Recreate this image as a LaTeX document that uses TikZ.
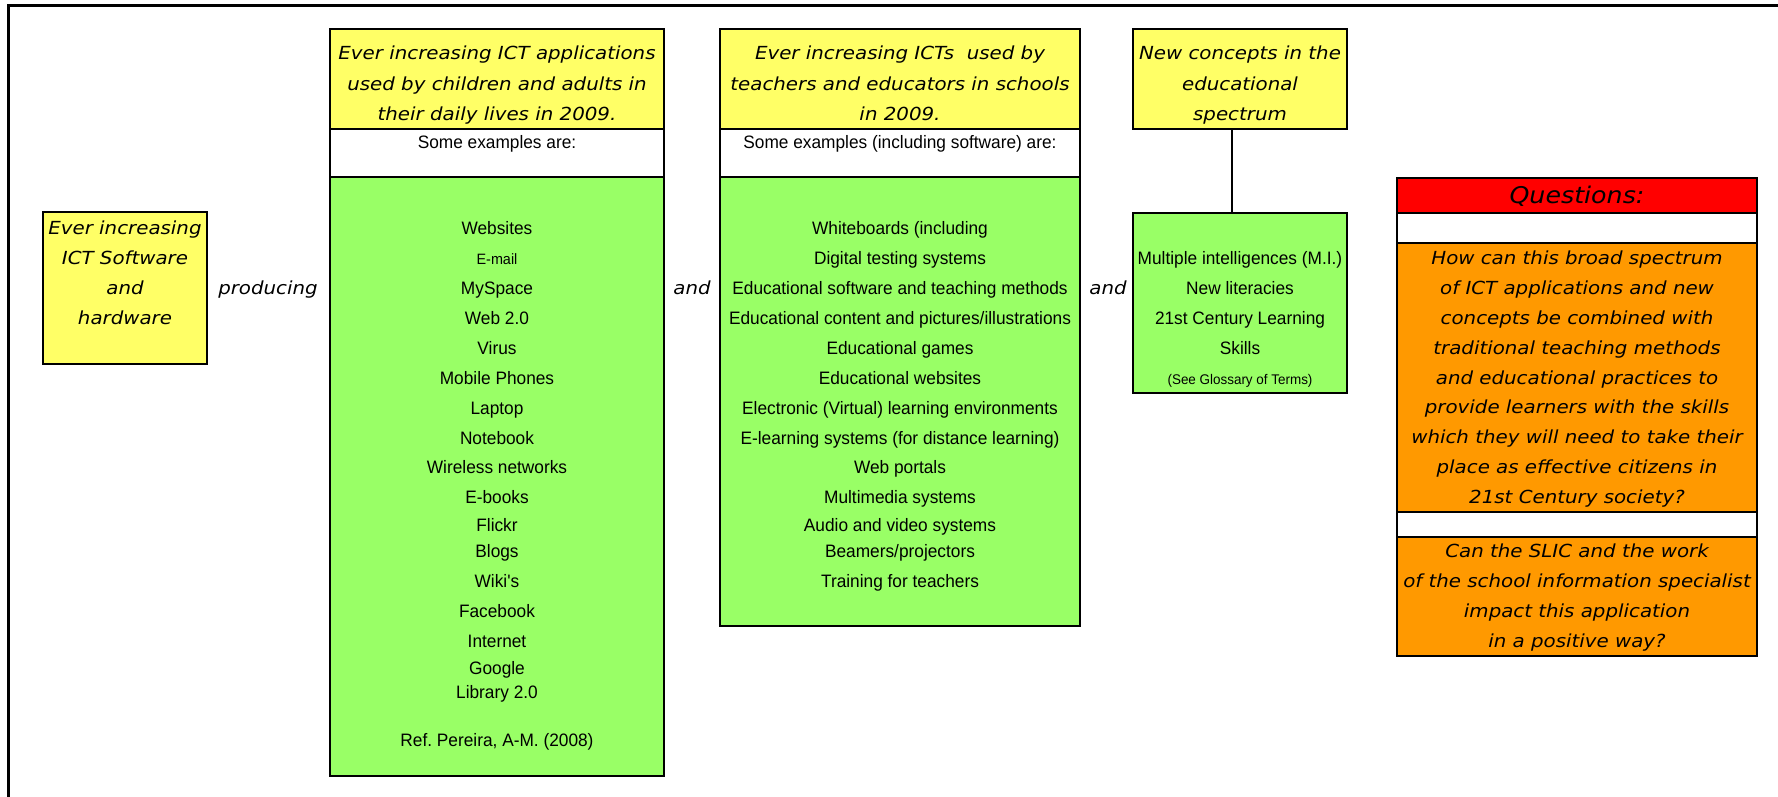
\documentclass[tikz,border=0pt]{standalone}
\usepackage{fontspec}
\newfontfamily\qfont{DejaVu Sans}[FakeStretch=1.1]
\newfontfamily\lfont{Liberation Sans}[FakeStretch=0.96]
\definecolor{ylw}{RGB}{255,255,102}
\definecolor{grn}{RGB}{153,255,102}
\definecolor{org}{RGB}{255,153,0}
\definecolor{qred}{RGB}{255,0,0}
\tikzset{
  box/.style={draw=black, line width=2.2pt, inner sep=0pt, outer sep=0pt, anchor=north west},
  qtext/.style={font=\qfont\itshape\fontsize{18}{20}\selectfont, inner sep=0pt, anchor=base},
  ltext/.style={font=\lfont\fontsize{18}{20}\selectfont, inner sep=0pt, anchor=base},
}
\frenchspacing
\begin{document}
\begin{tikzpicture}[x=1pt,y=-1pt]
\useasboundingbox (0,0) rectangle (1778,797);
\fill[white] (0,0) rectangle (1778,797);
% outer frame (runs past the page edges)
\draw[line width=3pt] (8.5,820) -- (8.5,5.5) -- (1800,5.5);

% ---- ICT software and hardware
\node[box, fill=ylw, minimum width=164pt, minimum height=152pt] (sw) at (43,212) {};
\foreach \yy/\txt [count=\k] in {228/Ever increasing, 258/ICT Software, 288/and, 318/hardware}
  \node[qtext] (swt\k) at (125,\yy+6.5) {\txt};
\node[qtext] (producing) at (268,294.5) {producing};

% ---- applications in daily life
\node[box, fill=ylw, minimum width=334pt, minimum height=100pt] (bY) at (330,29) {};
\node[box, fill=white, minimum width=334pt, minimum height=48pt] (bW) at (330,129) {};
\node[box, fill=grn, minimum width=334pt, minimum height=599pt] (bG) at (330,177) {};
\foreach \yy/\txt [count=\k] in {53/Ever increasing ICT applications, 84/used by children and adults in, 114/their daily lives in 2009.}
  \node[qtext] (bt\k) at (497,\yy+6.5) {\txt};
\node[ltext] (bex) at (497,148.5) {Some examples are:};
\foreach \yy/\txt [count=\k] in {228/Websites, 258/{\fontsize{15}{17}\selectfont E-mail}, 288/MySpace, 318/Web 2.0, 348/Virus,
  378/Mobile Phones, 408/Laptop, 438/Notebook, 467/Wireless networks, 497/E-books, 525/Flickr,
  551/Blogs, 581/Wiki\textquotesingle s, 611/Facebook, 641/Internet, 668/Google, 692/Library 2.0,
  740/{Ref.\ Pereira, A-M.\ (2008)}}
  \node[ltext] (bi\k) at (497,\yy+6.5) {\txt};
\node[qtext] (and1) at (692,294.5) {and};

% ---- ICTs used in schools
\node[box, fill=ylw, minimum width=360pt, minimum height=100pt] (cY) at (720,29) {};
\node[box, fill=white, minimum width=360pt, minimum height=48pt] (cW) at (720,129) {};
\node[box, fill=grn, minimum width=360pt, minimum height=449pt] (cG) at (720,177) {};
\foreach \yy/\txt [count=\k] in {53/Ever increasing ICTs\ \ used by, 84/teachers and educators in schools, 114/in 2009.}
  \node[qtext] (ct\k) at (900,\yy+6.5) {\txt};
\node[ltext] (cex) at (900,148.5) {Some examples (including software) are:};
\foreach \yy/\txt [count=\k] in {228/Whiteboards (including, 258/Digital testing systems,
  288/Educational software and teaching methods, 318/{Educational content and pictures/illustrations},
  348/Educational games, 378/Educational websites, 408/Electronic (Virtual) learning environments,
  438/E-learning systems (for distance learning), 467/Web portals, 497/Multimedia systems,
  525/Audio and video systems, 551/{Beamers/projectors}, 581/Training for teachers}
  \node[ltext] (ci\k) at (900,\yy+6.5) {\txt};
\node[qtext] (and2) at (1108,294.5) {and};

% ---- new concepts
\node[box, fill=ylw, minimum width=214pt, minimum height=100pt] (dY) at (1133,29) {};
\node[box, fill=grn, minimum width=214pt, minimum height=180pt] (dG) at (1133,213) {};
\foreach \yy/\txt [count=\k] in {53/New concepts in the, 84/educational, 114/spectrum}
  \node[qtext] (dt\k) at (1240,\yy+6.5) {\txt};
\foreach \yy/\txt [count=\k] in {258/Multiple intelligences (M.I.), 288/New literacies,
  318/21st Century Learning, 348/Skills, 378/{\fontsize{14}{16}\selectfont (See Glossary of Terms)}}
  \node[ltext] (di\k) at (1240,\yy+6.5) {\txt};
\draw[line width=2.2pt] ([xshift=-8pt]dY.south) -- ([xshift=-8pt]dG.north);

% ---- questions
\node[box, fill=qred, minimum width=360pt, minimum height=35pt] (eR) at (1397,178) {};
\node[box, fill=white, minimum width=360pt, minimum height=30pt] (eW1) at (1397,213) {};
\node[box, fill=org, minimum width=360pt, minimum height=269pt] (eO1) at (1397,243) {};
\node[box, fill=white, minimum width=360pt, minimum height=25pt] (eW2) at (1397,512) {};
\node[box, fill=org, minimum width=360pt, minimum height=119pt] (eO2) at (1397,537) {};
\node[qtext, font=\qfont\itshape\fontsize{23}{25}\selectfont] (eq) at (1577,203.5) {Questions:};
\foreach \yy/\txt [count=\k] in {258/How can this broad spectrum, 288/of ICT applications and new,
  318/concepts be combined with, 348/traditional teaching methods, 378/and educational practices to,
  407/provide learners with the skills, 437/which they will need to take their,
  467/place as effective citizens in, 497/21st Century society?}
  \node[qtext] (eq\k) at (1577,\yy+6.5) {\txt};
\foreach \yy/\txt [count=\k] in {551/Can the SLIC and the work, 581/of the school information specialist,
  611/impact this application, 641/in a positive way?}
  \node[qtext] (er\k) at (1577,\yy+6.5) {\txt};
\end{tikzpicture}
\end{document}
